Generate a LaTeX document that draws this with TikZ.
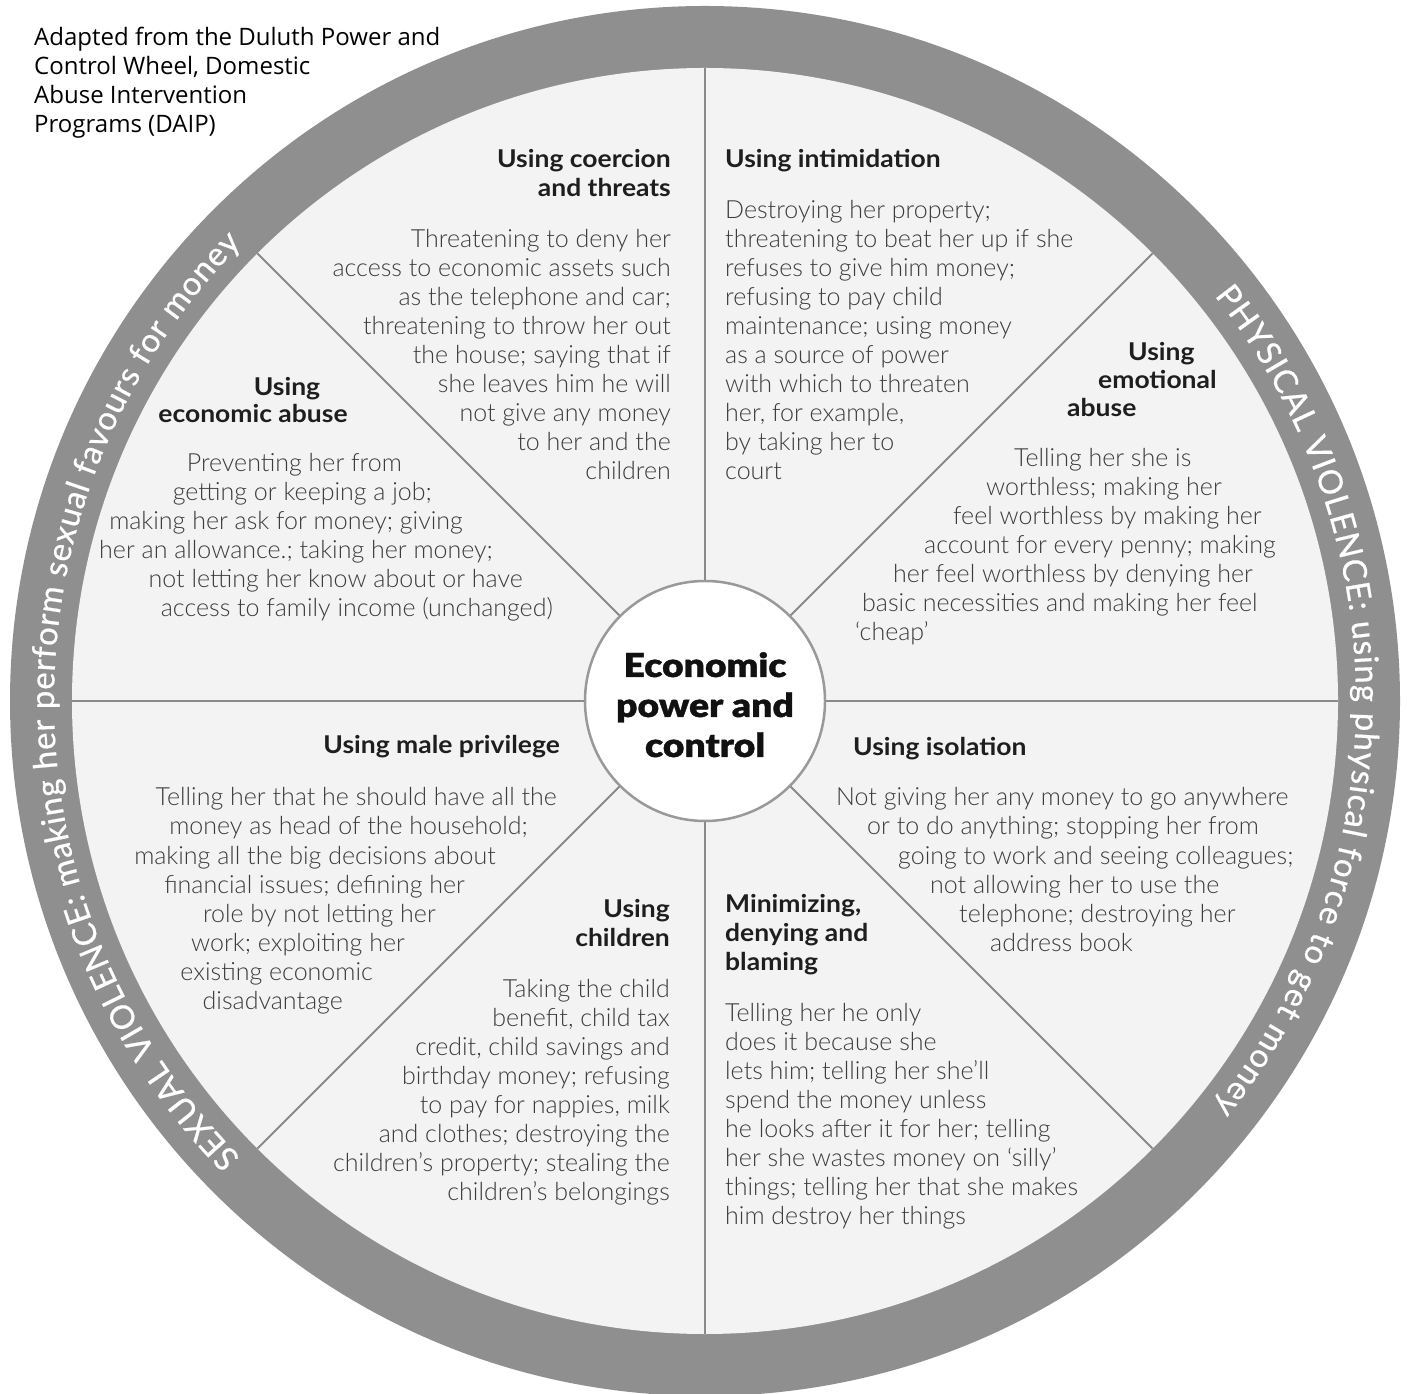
\documentclass[tikz,border=0pt]{standalone}
\usepackage{fontspec}
\usetikzlibrary{decorations.text,calc}
\newfontfamily\notefont{Open Sans}
\newfontfamily\bodyfont{Lato Light}
\newfontfamily\headfont{Lato}[FakeStretch=1.08]
\newfontfamily\hubfont{Lato Black}[FakeStretch=1.13, FakeBold=1]
\newfontfamily\ringfont{Lato}[FakeBold=0.6]
\definecolor{ringgray}{HTML}{8F8F8F}
\definecolor{discgray}{HTML}{F3F3F3}
\definecolor{spokegray}{HTML}{8A8A8A}
\definecolor{hubline}{HTML}{999999}
\definecolor{bodygray}{HTML}{3C3C3C}
\definecolor{headgray}{HTML}{1E1E1E}
\definecolor{hubblack}{HTML}{111111}
\begin{document}
\begin{tikzpicture}[x=1pt,y=1pt,
  spoke/.style={draw=spokegray, line width=2pt},
  body/.style={font=\bodyfont\fontsize{25}{29}\selectfont, text=bodygray, inner sep=0pt},
  head/.style={font=\headfont\bfseries\fontsize{24.5}{29}\selectfont, text=headgray, inner sep=0pt},
  hubtext/.style={font=\hubfont\fontsize{33}{40}\selectfont, text=hubblack, inner sep=0pt, anchor=base},
  note/.style={font=\notefont\fontsize{24}{29}\selectfont, text=black, inner sep=0pt, anchor=base west},
  ringtext/.style={decorate, decoration={text along path, text color=white,
      text align={fit to path}, text={|\ringfont\fontsize{33}{33}\selectfont|#1}}},
]
\useasboundingbox (0,0) rectangle (1407,1393);
\fill[white] (0,0) rectangle (1407,1393);
\coordinate (C) at (705,692);

% outer ring and inner disc
\fill[ringgray] (C) circle[radius=695];
\fill[discgray] (C) circle[radius=633];

% texts running clockwise inside the ring
\coordinate (lstart) at ([shift={(224.5:651)}]C);
\coordinate (rstart) at ([shift={(38.5:651)}]C);
\path[ringtext={SEXUAL VIOLENCE: making her perform sexual favours for money}]
  (lstart) arc[start angle=224.5, end angle=135.5, radius=651];
\path[ringtext={PHYSICAL VIOLENCE: using physical force to get money}]
  (rstart) arc[start angle=38.5, end angle=-38.5, radius=651];

% hub and spokes
\node[circle, draw=hubline, line width=2.5pt, fill=white, minimum size=240pt, inner sep=0pt] (hub) at (C) {};
\foreach \a [count=\k] in {0,45,...,315} {
  \coordinate (rim\k) at ([shift={(\a:633)}]C);
  \draw[spoke] (hub) -- (rim\k);
}
\node[hubtext] (hubA) at (705,716) {Economic};
\node[hubtext] (hubB) at (705,676) {power and};
\node[hubtext] (hubC) at (705,636) {control};

% source note
\node[note] (noteA) at (34,1347) {Adapted from the Duluth Power and};
\node[note] (noteB) at (34,1318) {Control Wheel, Domestic};
\node[note] (noteC) at (34,1289) {Abuse Intervention};
\node[note] (noteD) at (34,1260) {Programs (DAIP)};

% coercion and threats
\node[head, anchor=base east] (coerHa) at (671,1225) {Using coercion};
\node[head, anchor=base east] (coerHb) at (671,1196) {and threats};
\foreach \t [count=\k from 0] in {{Threatening to deny her},{access to economic assets such},
  {as the telephone and car;},{threatening to throw her out},{the house; saying that if},
  {she leaves him he will},{not give any money},{to her and the},{children}}
  \node[body, anchor=base east] (coer\k) at (671,{1145-29*\k}) {\t};

% intimidation
\node[head, anchor=base west] (intiH) at (725,1225) {Using intimidation};
\foreach \t [count=\k from 0] in {{Destroying her property;},{threatening to beat her up if she},
  {refuses to give him money;},{refusing to pay child},{maintenance; using money},
  {as a source of power},{with which to threaten},{her, for example,},{by taking her to},{court}}
  \node[body, anchor=base west] (inti\k) at (725,{1174-29*\k}) {\t};

% emotional abuse
\node[head, anchor=base west] (emoHa) at (1128,1032) {Using};
\node[head, anchor=base west] (emoHb) at (1098,1004) {emotional};
\node[head, anchor=base west] (emoHc) at (1067,976) {abuse};
\foreach \x/\t [count=\k from 0] in {1014/{Telling her she is},986/{worthless; making her},
  953/{feel worthless by making her},924/{account for every penny; making},
  893/{her feel worthless by denying her},862/{basic necessities and making her feel},
  855/{‘cheap’}}
  \node[body, anchor=base west] (emo\k) at (\x,{926-29*\k}) {\t};

% economic abuse
\node[head, anchor=base] (ecoHa) at (287,997) {Using};
\node[head, anchor=base] (ecoHb) at (253,970) {economic abuse};
\foreach \x/\t [count=\k from 0] in {402/{Preventing her from},432/{getting or keeping a job;},
  463/{making her ask for money; giving},493/{her an allowance.; taking her money;},
  523/{not letting her know about or have},553/{access to family income (unchanged)}}
  \node[body, anchor=base east] (eco\k) at (\x,{921-29*\k}) {\t};

% male privilege
\node[head, anchor=base east] (maleH) at (560,639) {Using male privilege};
\foreach \x/\t [count=\k from 0] in {557/{Telling her that he should have all the},
  528/{money as head of the household;},496/{making all the big decisions about},
  465/{financial issues; defining her},436/{role by not letting her},
  405/{work; exploiting her},373/{existing economic},343/{disadvantage}}
  \node[body, anchor=base east] (male\k) at (\x,{587-29*\k}) {\t};

% isolation
\node[head, anchor=base west] (isoH) at (853,637) {Using isolation};
\foreach \x/\t [count=\k from 0] in {836/{Not giving her any money to go anywhere},
  867/{or to do anything; stopping her from},898/{going to work and seeing colleagues;},
  930/{not allowing her to use the},959/{telephone; destroying her},990/{address book}}
  \node[body, anchor=base west] (iso\k) at (\x,{587-29*\k}) {\t};

% minimizing, denying and blaming
\node[head, anchor=base west] (minHa) at (725,481) {Minimizing,};
\node[head, anchor=base west] (minHb) at (725,452) {denying and};
\node[head, anchor=base west] (minHc) at (725,423) {blaming};
\foreach \t [count=\k from 0] in {{Telling her he only},{does it because she},
  {lets him; telling her she’ll},{spend the money unless},{he looks after it for her; telling},
  {her she wastes money on ‘silly’},{things; telling her that she makes},{him destroy her things}}
  \node[body, anchor=base west] (min\k) at (725,{372-29*\k}) {\t};

% children
\node[head, anchor=base east] (chiHa) at (670,476) {Using};
\node[head, anchor=base east] (chiHb) at (670,447) {children};
\foreach \t [count=\k from 0] in {{Taking the child},{benefit, child tax},
  {credit, child savings and},{birthday money; refusing},{to pay for nappies, milk},
  {and clothes; destroying the},{children’s property; stealing the},{children’s belongings}}
  \node[body, anchor=base east] (chi\k) at (670,{396-29*\k}) {\t};
\end{tikzpicture}
\end{document}
